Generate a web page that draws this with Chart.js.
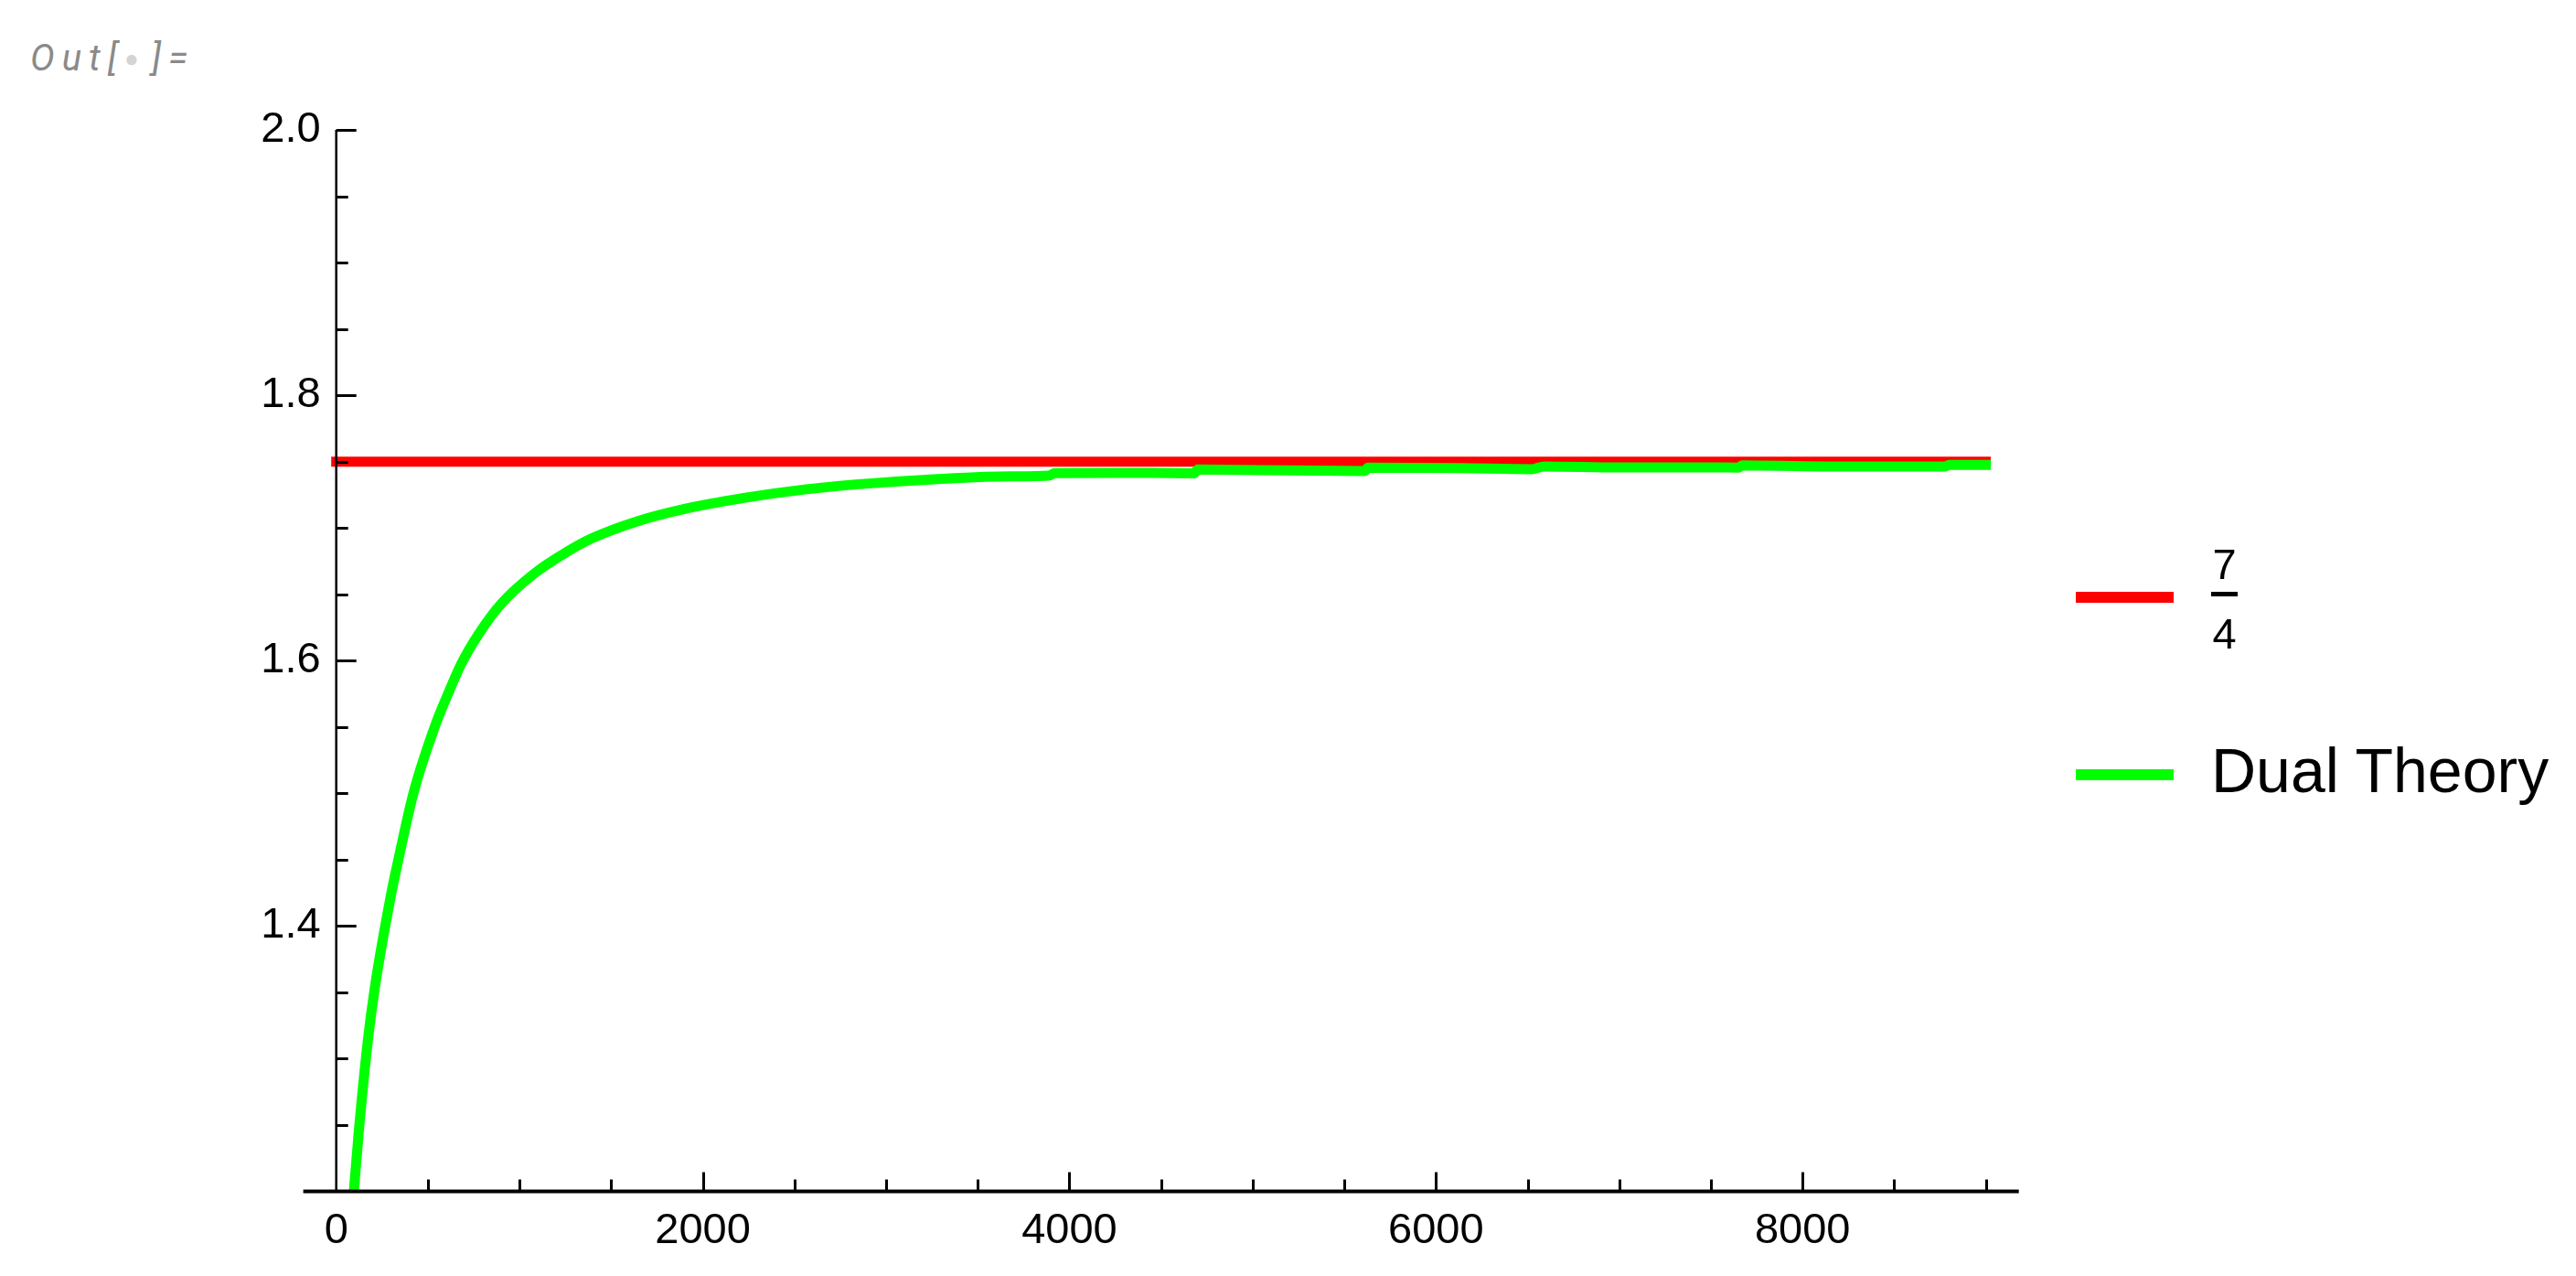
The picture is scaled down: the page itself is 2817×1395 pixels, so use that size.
<!DOCTYPE html>
<html>
<head>
<meta charset="utf-8">
<title>Dual Theory</title>
<script src="https://cdn.jsdelivr.net/npm/chart.js@4.4.1/dist/chart.umd.min.js"></script>
<style>
  html, body { margin: 0; padding: 0; background: #fff; }
  #wrap { position: relative; width: 2817px; height: 1395px; overflow: hidden; }
  #plot { position: absolute; left: 0; top: 0; width: 2817px; height: 1395px; }
  #out {
    position: absolute; left: 33px; top: 44px;
    font: italic 40px Roboto, "Open Sans", sans-serif; line-height: 40px;
    color: #8a8a8a; letter-spacing: 8px; white-space: nowrap;
  }
  #out .dot { color: #d4d4d4; font-size: 26px; font-style: normal; letter-spacing: 14px; vertical-align: 4px; }
  .key { position: absolute; left: 2270px; width: 107px; height: 12px; }
  .lbl { position: absolute; left: 2418px; font-family: "Liberation Sans", Arial, sans-serif; color: #000; }
  .frac { width: 29px; text-align: center; font-size: 47px; line-height: 47px; }
  .frac .bar { height: 5px; background: #000; margin: 7px 0 17px 0; }
  .txt { font-size: 68px; line-height: 68px; white-space: nowrap; }
</style>
</head>
<body>
<div id="wrap">
  <div id="out">Out[<span class="dot">●</span>]=</div>
  <canvas id="plot" width="2817" height="1395"></canvas>
</div>
<script>
// ---------------------------------------------------------------
// DATA
// ---------------------------------------------------------------
const limitLabel = "7/4";
const limitX = [0, 9000];
const limitY = [1.75, 1.75];

const dualLabel = "Dual Theory";
const dualX = [96, 123, 171, 211, 301, 339, 421, 537, 607, 680, 777, 901, 1084, 1259, 1392, 1642,
               1890, 2224, 2556, 2956, 3680, 3890, 3920, 4450, 4680, 4700, 5200, 5610, 5630,
               6130, 6520, 6590, 7000, 7500, 7650, 7670, 8100, 8780, 8800, 9000];
const dualY = [1.200, 1.245, 1.312, 1.354, 1.425, 1.450, 1.500, 1.550, 1.574, 1.597, 1.620, 1.643, 1.666, 1.682, 1.692, 1.705,
               1.714, 1.7226, 1.729, 1.734, 1.7389, 1.7395, 1.7413, 1.7415, 1.7412, 1.744, 1.7434, 1.7429, 1.7454,
               1.7451, 1.7443, 1.7464, 1.7456, 1.7456, 1.7455, 1.7471, 1.7464, 1.7464, 1.7475, 1.7475];

const xTicks = [0, 2000, 4000, 6000, 8000];
const yTicks = [1.4, 1.6, 1.8, 2.0];

// ---------------------------------------------------------------
// LAYOUT / STYLE
// ---------------------------------------------------------------
const X_MIN = 0, X_MAX = 9000, Y_MIN = 1.2, Y_MAX = 2.0;
const X_AXIS_FROM = -180, X_AXIS_TO = 9180;
const X_MINOR = 500, Y_MINOR = 0.05;
const FONT = "'Liberation Sans', Arial, sans-serif";
const legendRows = [653, 847];

const toPoints = (xs, ys) => xs.map((x, i) => ({ x, y: ys[i] }));

// ---------------------------------------------------------------
// AXES (Mathematica style: inward ticks, axes crossing at origin)
// ---------------------------------------------------------------
const axesPlugin = {
  id: "axes",
  afterDatasetsDraw(chart) {
    const { ctx, scales: { x, y } } = chart;
    const ax = x.getPixelForValue(0);
    const ay = y.getPixelForValue(Y_MIN);
    ctx.save();
    ctx.strokeStyle = "#000";
    ctx.lineCap = "butt";

    // x axis
    ctx.lineWidth = 4;
    ctx.beginPath();
    ctx.moveTo(x.getPixelForValue(X_AXIS_FROM), ay);
    ctx.lineTo(x.getPixelForValue(X_AXIS_TO), ay);
    ctx.stroke();

    // y axis
    ctx.lineWidth = 2.5;
    ctx.beginPath();
    ctx.moveTo(ax, ay);
    ctx.lineTo(ax, y.getPixelForValue(Y_MAX));
    ctx.stroke();

    ctx.lineWidth = 3;
    // x ticks
    for (let v = X_MINOR; v <= X_MAX + 1e-6; v += X_MINOR) {
      const major = xTicks.includes(v);
      const px = Math.round(x.getPixelForValue(v)) + 0.5;
      ctx.beginPath();
      ctx.moveTo(px, ay);
      ctx.lineTo(px, ay - (major ? 21 : 13));
      ctx.stroke();
    }
    // y ticks
    for (let k = 1; Y_MIN + k * Y_MINOR <= Y_MAX + 1e-6; k++) {
      const v = Y_MIN + k * Y_MINOR;
      const major = yTicks.some(t => Math.abs(t - v) < 1e-6);
      const py = Math.round(y.getPixelForValue(v)) + 0.5;
      ctx.beginPath();
      ctx.moveTo(ax, py);
      ctx.lineTo(ax + (major ? 22 : 13), py);
      ctx.stroke();
    }
    ctx.restore();
  }
};

// ---------------------------------------------------------------
// CHART
// ---------------------------------------------------------------
const chart = new Chart(document.getElementById("plot"), {
  type: "line",
  data: {
    datasets: [
      {
        label: limitLabel,
        data: toPoints(limitX, limitY),
        borderColor: "#ff0000",
        borderWidth: 11,
        borderCapStyle: "square",
        pointRadius: 0,
        order: 1,
        clip: { left: 10, right: 10, top: 0, bottom: 0 }
      },
      {
        label: dualLabel,
        data: toPoints(dualX, dualY),
        borderColor: "#00ff00",
        borderWidth: 11,
        borderCapStyle: "square",
        cubicInterpolationMode: "monotone",
        pointRadius: 0,
        order: 0,
        clip: { left: 10, right: 10, top: 0, bottom: 0 }
      }
    ]
  },
  options: {
    responsive: false,
    devicePixelRatio: 1,
    animation: false,
    events: [],
    layout: { padding: { top: 142, right: 645.4, left: 0, bottom: 0 } },
    plugins: { legend: { display: false }, tooltip: { enabled: false } },
    scales: {
      x: {
        type: "linear",
        min: X_MIN,
        max: X_MAX,
        afterFit: s => { s.height = 92.5; },
        afterBuildTicks: s => { s.ticks = xTicks.map(v => ({ value: v })); },
        grid: { display: false, drawTicks: false },
        border: { display: false },
        ticks: {
          padding: 15,
          maxRotation: 0,
          autoSkip: false,
          color: "#000",
          font: { family: FONT, size: 47 },
          callback: v => String(v)
        }
      },
      y: {
        type: "linear",
        min: Y_MIN,
        max: Y_MAX,
        afterFit: s => { s.width = 367.7; },
        afterBuildTicks: s => { s.ticks = yTicks.map(v => ({ value: v })); },
        grid: { display: false, drawTicks: false },
        border: { display: false },
        ticks: {
          padding: 17,
          autoSkip: false,
          color: "#000",
          font: { family: FONT, size: 47 },
          callback: v => Number(v).toFixed(1)
        }
      }
    }
  },
  plugins: [axesPlugin]
});

// ---------------------------------------------------------------
// LEGEND (built from the datasets, placed right of the plot)
// ---------------------------------------------------------------
function buildLegend(chart) {
  const wrap = document.getElementById("wrap");
  chart.data.datasets.forEach((ds, i) => {
    const cy = legendRows[i];
    const key = document.createElement("div");
    key.className = "key";
    key.style.top = (cy - 6) + "px";
    key.style.background = ds.borderColor;
    wrap.appendChild(key);

    const lbl = document.createElement("div");
    if (ds.label.includes("/")) {
      const [num, den] = ds.label.split("/");
      lbl.className = "lbl frac";
      lbl.style.top = (cy - 60) + "px";
      lbl.innerHTML = `<div>${num}</div><div class="bar"></div><div>${den}</div>`;
    } else {
      lbl.className = "lbl txt";
      lbl.style.top = (cy - 39.5) + "px";
      lbl.textContent = ds.label;
    }
    wrap.appendChild(lbl);
  });
}
buildLegend(chart);
</script>
</body>
</html>
